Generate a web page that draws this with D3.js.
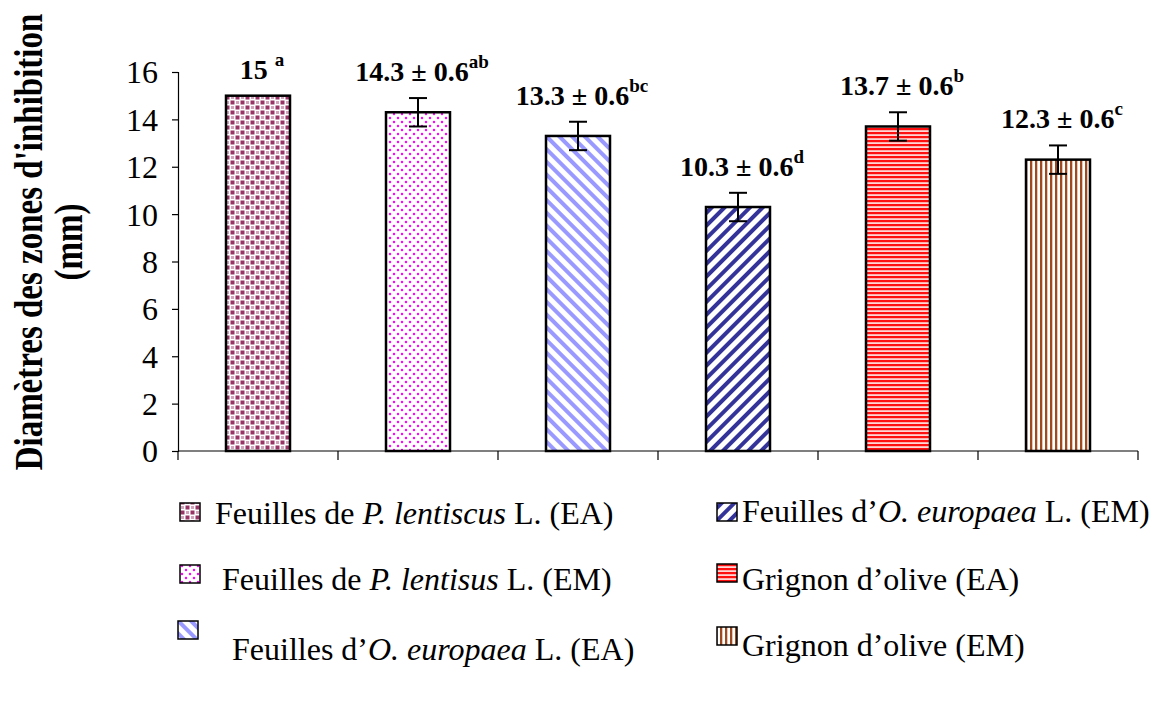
<!DOCTYPE html>
<html>
<head>
<meta charset="utf-8">
<script src="https://cdn.jsdelivr.net/npm/d3@7"></script>
<style>
  html, body { margin: 0; padding: 0; background: #fff; }
  svg { display: block; }
  text { font-family: "Liberation Serif", "Times New Roman", serif; fill: #000; }
</style>
</head>
<body>
<svg id="chart" width="1160" height="704"></svg>
<script>
// Inhibition zone diameters (mm), mean ± SD, with significance letters
const categories = ["PL-EA", "PL-EM", "OE-EA", "OE-EM", "GO-EA", "GO-EM"];
const means = [15, 14.3, 13.3, 10.3, 13.7, 12.3];
const sds = [0, 0.6, 0.6, 0.6, 0.6, 0.6];
const letters = ["a", "ab", "bc", "d", "b", "c"];
const valueLabels = ["15", "14.3 ± 0.6", "13.3 ± 0.6", "10.3 ± 0.6", "13.7 ± 0.6", "12.3 ± 0.6"];
const yTicks = [0, 2, 4, 6, 8, 10, 12, 14, 16];
// Legend entries: [plain, italic, plain]
const legendTexts = [
  ["Feuilles de ", "P. lentiscus", " L. (EA)"],
  ["Feuilles de ", "P. lentisus", " L. (EM)"],
  ["\u00a0Feuilles d\u2019", "O. europaea", " L. (EA)"],
  ["Feuilles d\u2019", "O. europaea", " L. (EM)"],
  ["Grignon d\u2019olive (EA)", "", ""],
  ["Grignon d\u2019olive (EM)", "", ""]
];

const svg = d3.select("#chart");
const defs = svg.append("defs");

// Fill patterns for each bar
function pat(id, w, h) {
  return defs.append("pattern").attr("id", id).attr("patternUnits", "userSpaceOnUse")
    .attr("width", w).attr("height", h);
}
// 1: dark magenta squares
{
  const p = pat("p0", 10, 10);
  p.append("rect").attr("width", 10).attr("height", 10).attr("fill", "#fff");
  const c = "#993366";
  p.append("rect").attr("x", 0.5).attr("y", 0.5).attr("width", 4).attr("height", 4).attr("fill", c);
  p.append("rect").attr("x", 5.5).attr("y", 5.5).attr("width", 4).attr("height", 4).attr("fill", c);
  p.append("rect").attr("x", 6).attr("y", 1).attr("width", 3).attr("height", 3).attr("fill", c).attr("opacity", 0.45);
  p.append("rect").attr("x", 1).attr("y", 6).attr("width", 3).attr("height", 3).attr("fill", c).attr("opacity", 0.45);
}
// 2: magenta dots
{
  const p = pat("p1", 8, 8);
  p.append("rect").attr("width", 8).attr("height", 8).attr("fill", "#fff");
  p.append("circle").attr("cx", 2).attr("cy", 2).attr("r", 1.2).attr("fill", "#ff00ff");
  p.append("circle").attr("cx", 6).attr("cy", 6).attr("r", 1.2).attr("fill", "#ff00ff");
}
// 3: light blue diagonal stripes (\)
{
  const p = pat("p2", 9, 9).attr("patternTransform", "rotate(-45)");
  p.append("rect").attr("width", 9).attr("height", 9).attr("fill", "#fff");
  p.append("rect").attr("x", 0).attr("width", 4).attr("height", 9).attr("fill", "#9999ff");
}
// 4: dark blue diagonal stripes (/)
{
  const p = pat("p3", 9, 9).attr("patternTransform", "rotate(45)");
  p.append("rect").attr("width", 9).attr("height", 9).attr("fill", "#fff");
  p.append("rect").attr("x", 0).attr("width", 4).attr("height", 9).attr("fill", "#333399");
}
// 5: red horizontal lines
{
  const p = pat("p4", 4, 4);
  p.append("rect").attr("width", 4).attr("height", 4).attr("fill", "#ffd6d6");
  p.append("rect").attr("y", 0).attr("width", 4).attr("height", 2.2).attr("fill", "#ff1010");
}
// 6: brown vertical lines
{
  const p = pat("p5", 5, 5);
  p.append("rect").attr("width", 5).attr("height", 5).attr("fill", "#fff");
  p.append("rect").attr("x", 0).attr("width", 2.3).attr("height", 5).attr("fill", "#a0481e");
}

const x = d3.scaleBand().domain(categories).range([178, 1138]).paddingInner(0.6).paddingOuter(0.3);
const y = d3.scaleLinear().domain([0, 16]).range([451, 72]);

// Y axis
const yAxis = svg.append("g").attr("transform", "translate(178,0)")
  .call(d3.axisLeft(y).tickValues(yTicks).tickSize(6).tickPadding(14).tickFormat(d3.format("d")));
yAxis.select(".domain").attr("stroke", "#000").attr("stroke-width", 1.2);
yAxis.selectAll(".tick line").attr("stroke", "#000").attr("stroke-width", 1.2);
yAxis.selectAll(".tick text").style("font-size", "32px").attr("dy", "0.34em");

// X axis with boundary ticks
const gx = svg.append("g");
gx.append("line").attr("x1", 178).attr("x2", 1138).attr("y1", y(0)).attr("y2", y(0))
  .attr("stroke", "#000").attr("stroke-width", 1.2);
const bounds = d3.range(categories.length + 1).map(i => 178 + i * x.step());
gx.selectAll("line.tk").data(bounds).join("line").attr("class", "tk")
  .attr("x1", d => d).attr("x2", d => d).attr("y1", y(0)).attr("y2", y(0) + 9)
  .attr("stroke", "#000").attr("stroke-width", 1.2);

// Bars
svg.append("g").selectAll("rect").data(categories).join("rect")
  .attr("x", d => x(d)).attr("width", x.bandwidth())
  .attr("y", (d, i) => y(means[i])).attr("height", (d, i) => y(0) - y(means[i]))
  .attr("fill", (d, i) => `url(#p${i})`)
  .attr("stroke", "#000").attr("stroke-width", 2.5);

// Error bars
const eb = svg.append("g").attr("stroke", "#000").attr("stroke-width", 2);
categories.forEach((c, i) => {
  if (!sds[i]) return;
  const cx = x(c) + x.bandwidth() / 2;
  const y1 = y(means[i] + sds[i]), y2 = y(means[i] - sds[i]);
  eb.append("line").attr("x1", cx).attr("x2", cx).attr("y1", y1).attr("y2", y2);
  eb.append("line").attr("x1", cx - 9).attr("x2", cx + 9).attr("y1", y1).attr("y2", y1);
  eb.append("line").attr("x1", cx - 9).attr("x2", cx + 9).attr("y1", y2).attr("y2", y2);
});

// Value labels with superscript letters
categories.forEach((c, i) => {
  const cx = x(c) + x.bandwidth() / 2 + 4;
  const t = svg.append("text").attr("x", cx).attr("y", y(means[i] + sds[i]) - 17)
    .attr("text-anchor", "middle").style("font-size", "28px").style("font-weight", "bold");
  t.append("tspan").text(valueLabels[i] + (sds[i] ? "" : " "));
  t.append("tspan").attr("dy", -13).style("font-size", "19px").text(letters[i]);
});

// Y axis title (glyphs slightly stretched across the baseline)
const yt = svg.append("text").attr("transform", "rotate(-90) scale(1,1.2)")
  .attr("text-anchor", "middle").style("font-size", "33px").style("font-weight", "bold");
yt.append("tspan").attr("x", -242).attr("y", 42 / 1.2).text("Diamètres des zones d'inhibition");
yt.append("tspan").attr("x", -242).attr("y", 82 / 1.2).text("(mm)");

// Legend
const legendPos = [
  { sx: 180, sy: 503, tx: 215, ty: 524 },
  { sx: 180, sy: 565, tx: 222, ty: 590 },
  { sx: 178, sy: 621, tx: 224, ty: 660 },
  { sx: 717, sy: 503, tx: 742, ty: 522 },
  { sx: 717, sy: 564, tx: 742, ty: 590 },
  { sx: 717, sy: 627, tx: 742, ty: 656 }
];
const lg = svg.append("g");
legendTexts.forEach((parts, i) => {
  const p = legendPos[i];
  lg.append("rect").attr("x", p.sx).attr("y", p.sy).attr("width", 20).attr("height", 18)
    .attr("fill", `url(#p${i})`).attr("stroke", "#000").attr("stroke-width", 1.5);
  const t = lg.append("text").attr("x", p.tx).attr("y", p.ty).style("font-size", "32px");
  t.append("tspan").text(parts[0]);
  if (parts[1]) t.append("tspan").style("font-style", "italic").text(parts[1]);
  if (parts[2]) t.append("tspan").text(parts[2]);
});
</script>
</body>
</html>
